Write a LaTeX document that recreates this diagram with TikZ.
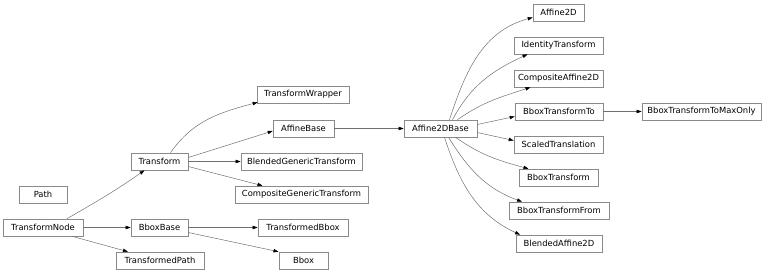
\documentclass[tikz,border=0pt]{standalone}
\usepackage{fontspec}
\setmainfont{DejaVu Sans}
\usetikzlibrary{arrows.meta}
\definecolor{boxline}{HTML}{8A8A8A}
\definecolor{edgeline}{HTML}{707070}
\begin{document}
\begin{tikzpicture}[x=1pt,y=-1pt,
  cls/.style={draw=boxline, line width=0.6pt, fill=white, rectangle,
    minimum height=17pt, inner xsep=2pt, inner ysep=0pt,
    font=\fontsize{8.4}{10}\selectfont, text=black},
  inh/.style={draw=edgeline, line width=0.5pt,
    -{Triangle[length=5pt,width=3.4pt,fill=black,color=black]}}]
\useasboundingbox (0,0) rectangle (768,272);

% class boxes
\node[cls, minimum width=80pt]  (tn)   at (43,227.5)   {TransformNode};
\node[cls, minimum width=48pt]  (path) at (43,194.5)   {Path};
\node[cls, minimum width=57pt]  (tr)   at (159.5,161.5) {Transform};
\node[cls, minimum width=57pt]  (bb)   at (159.5,227.5) {BboxBase};
\node[cls, minimum width=88pt]  (tp)   at (160,260.5)  {TransformedPath};
\node[cls, minimum width=92pt]  (tw)   at (303,94.5)   {TransformWrapper};
\node[cls, minimum width=61pt]  (ab)   at (303.5,128.5) {AffineBase};
\node[cls, minimum width=121pt] (bgt)  at (301.5,161.5) {BlendedGenericTransform};
\node[cls, minimum width=133pt] (cgt)  at (301.5,194.5) {CompositeGenericTransform};
\node[cls, minimum width=90pt]  (tb)   at (303,227.5)  {TransformedBbox};
\node[cls, minimum width=49pt]  (bbox) at (303.5,260.5) {Bbox};
\node[cls, minimum width=73pt]  (a2b)  at (440.5,128.5) {Affine2DBase};
\node[cls, minimum width=51pt]  (a2d)  at (558.5,12.5) {Affine2D};
\node[cls, minimum width=89pt]  (idt)  at (558.5,45.5) {IdentityTransform};
\node[cls, minimum width=89pt]  (ca2d) at (558.5,78.5) {CompositeAffine2D};
\node[cls, minimum width=88pt]  (btt)  at (559,111.5)  {BboxTransformTo};
\node[cls, minimum width=89pt]  (st)   at (558.5,144.5) {ScaledTranslation};
\node[cls, minimum width=79pt]  (bt)   at (558.5,177.5) {BboxTransform};
\node[cls, minimum width=100pt] (btf)  at (559,210.5)  {BboxTransformFrom};
\node[cls, minimum width=86pt]  (ba2d) at (559,243.5)  {BlendedAffine2D};
\node[cls, minimum width=119pt] (btm)  at (701.5,111.5) {BboxTransformToMaxOnly};

% inheritance edges
\draw[inh] ([xshift=24pt]tn.north) to[out=30,in=215] ([xshift=-15pt]tr.south);
\draw[inh] (tn.east) -- (bb.west);
\draw[inh] ([xshift=29pt]tn.south) -- ([xshift=-32pt]tp.north);

\draw[inh] ([xshift=11pt]tr.north) to[out=55,in=195] ([xshift=1pt,yshift=1pt]tw.south west);
\draw[inh] ([yshift=4pt]tr.east) -- ([yshift=-2.5pt]ab.west);
\draw[inh] (tr.east) -- (bgt.west);
\draw[inh] ([yshift=-5pt]tr.east) -- ([xshift=-39pt]cgt.north);

\draw[inh] (bb.east) -- (tb.west);
\draw[inh] ([yshift=-5pt]bb.east) -- ([xshift=-25pt]bbox.north);

\draw[inh] (ab.east) -- (a2b.west);

\draw[inh] ([xshift=9pt]a2b.north)  to[out=72,in=195] ([yshift=-5pt]a2d.west);
\draw[inh] ([xshift=12pt]a2b.north) to[out=62,in=205] ([xshift=-31pt]idt.south);
\draw[inh] ([xshift=17pt]a2b.north) to[out=35,in=198] ([xshift=-28pt]ca2d.south);
\draw[inh] ([yshift=4pt]a2b.east) -- ([yshift=-5pt]btt.west);
\draw[inh] ([yshift=-4pt]a2b.east) -- ([yshift=4pt]st.west);
\draw[inh] ([xshift=15pt]a2b.south) to[out=-35,in=165] ([xshift=-30pt]bt.north);
\draw[inh] ([xshift=8pt]a2b.south)  to[out=-58,in=160] ([xshift=-37pt]btf.north);
\draw[inh] ([xshift=4pt]a2b.south)  to[out=-72,in=155] ([xshift=-39pt]ba2d.north);

\draw[inh] (btt.east) -- (btm.west);
\end{tikzpicture}
\end{document}
